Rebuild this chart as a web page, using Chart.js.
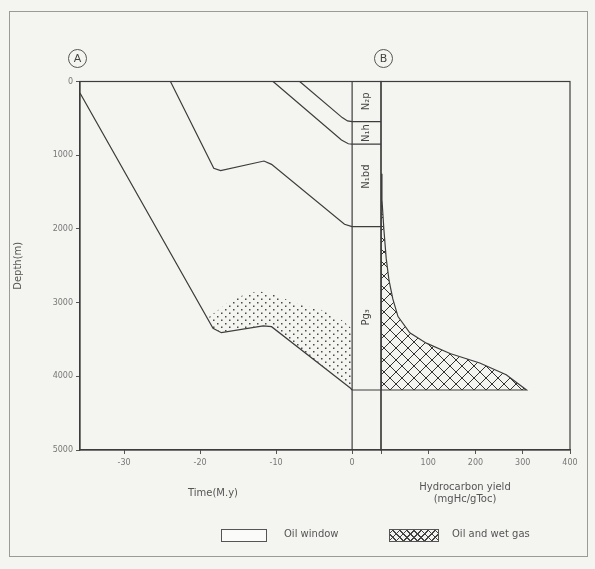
<!DOCTYPE html>
<html>
<head>
<meta charset="utf-8">
<script src="https://cdn.jsdelivr.net/npm/chart.js@4.4.0/dist/chart.umd.min.js"></script>
<style>
  body { margin:0; background:#f4f4f1; font-family:"DejaVu Sans", sans-serif; color:#555; }
  #wrap { position:relative; width:595px; height:569px; overflow:hidden; }
  #wrap canvas { position:absolute; left:0; top:0; }
  #frame { position:absolute; left:9px; top:11px; width:579px; height:546px; border:1px solid #9a9a9a; box-sizing:border-box; }
  .circ { position:absolute; width:17px; height:17px; border:1px solid #555; border-radius:50%;
          font-size:11px; line-height:17px; text-align:center; color:#444; }
  .lbl { position:absolute; font-size:10px; white-space:nowrap; color:#555; }
  .box { position:absolute; height:11px; border:1px solid #555; }
</style>
</head>
<body>
<div id="wrap">
  <div id="frame"></div>
  <canvas id="chartA" width="595" height="569"></canvas>
  <canvas id="chartB" width="595" height="569"></canvas>
  <div class="circ" style="left:68px;top:49px">A</div>
  <div class="circ" style="left:374px;top:49px">B</div>
  <div class="lbl" style="left:188px;top:487px">Time(M.y)</div>
  <div class="lbl" style="left:410px;top:481px;text-align:center;width:110px;line-height:12px">Hydrocarbon yield<br>(mgHc/gToc)</div>
  <div class="box" style="left:221px;top:529px;width:44px;background:#fbfbf9"></div>
  <div class="lbl" style="left:284px;top:528px">Oil window</div>
  <div class="box" style="left:389px;top:529px;width:48px;
       background:repeating-linear-gradient(45deg,transparent 0 4px,#444 4px 5px),repeating-linear-gradient(-45deg,transparent 0 4px,#444 4px 5px)"></div>
  <div class="lbl" style="left:452px;top:528px">Oil and wet gas</div>
</div>
<script>
'use strict';

// axes
const timeTicks   = [-30, -20, -10, 0];
const yieldTicks  = [0, 100, 200, 300, 400];
const depthTicks  = [0, 1000, 2000, 3000, 4000, 5000];
const timeMin = -35.8, timeMax = 3.8;   // timeMax = right edge of the strata column

// strata column
const formations        = ['N\u2082p', 'N\u2081h', 'N\u2081bd', 'Pg\u2083'];
const formationBase     = [545, 850, 1970, 4186];
const formationLabelAt  = [270, 700, 1290, 3200];

// burial paths  [time (Ma), depth (m)]
const burialNp  = [[-6.9,0],[-1.3,490],[-0.6,535],[0,545]];
const burialNh  = [[-10.4,0],[-1.4,794],[-0.5,845],[0,850]];
const burialNbd = [[-23.9,0],[-18.2,1178],[-17.3,1210],[-11.6,1079],[-10.6,1124],[-1.0,1938],[0,1970]];
const burialPg  = [[-35.8,156],[-18.3,3349],[-17.2,3408],[-11.7,3317],[-10.6,3327],[-0.2,4163],[0,4186]];

// oil window upper edge (lower edge is the Pg base path)
const oilWindowTop = [[-19.0,3210],[-15.9,2965],[-13.7,2874],[-12.2,2850],[-10.6,2874],[-7.5,3010],
                      [-4.0,3100],[-1.4,3236],[-0.3,3327],[0,3370]];

// hydrocarbon yield  [mgHc/gToc, depth (m)]
const yieldCurve = [[0,1250],[2,1600],[6,2000],[11,2400],[17,2700],[25,2950],[36,3190],[61,3410],
                    [96,3550],[146,3690],[209,3820],[265,3980],[308,4186]];

const pt = a => a.map(p => ({ x:p[0], y:p[1] }));
const INK = '#3d3d3d';

function dotPattern() {
  const c = document.createElement('canvas'); c.width = 8; c.height = 7;
  const g = c.getContext('2d');
  g.fillStyle = '#4a4a4a';
  g.fillRect(1, 1, 1.5, 1.5); g.fillRect(5, 4.5, 1.5, 1.5);
  return g.createPattern(c, 'repeat');
}
function hatchPattern() {
  const s = 12, c = document.createElement('canvas'); c.width = s; c.height = s;
  const g = c.getContext('2d');
  g.strokeStyle = '#333'; g.lineWidth = 1;
  g.beginPath(); g.moveTo(0,0); g.lineTo(s,s); g.moveTo(s,0); g.lineTo(0,s); g.stroke();
  return g.createPattern(c, 'repeat');
}

const framePlugin = {
  id: 'frame',
  beforeDatasetsDraw(chart) {
    const a = chart.chartArea, ctx = chart.ctx;
    ctx.save(); ctx.strokeStyle = INK; ctx.lineWidth = 1.2;
    ctx.strokeRect(a.left, a.top, a.right - a.left, a.bottom - a.top);
    ctx.restore();
  }
};

const columnLabels = {
  id: 'columnLabels',
  afterDatasetsDraw(chart) {
    const { x, y } = chart.scales, ctx = chart.ctx;
    ctx.save();
    ctx.fillStyle = '#444'; ctx.font = '10px "DejaVu Sans"';
    ctx.textAlign = 'center'; ctx.textBaseline = 'middle';
    formations.forEach((f, i) => {
      ctx.save();
      ctx.translate(x.getPixelForValue(timeMax / 2), y.getPixelForValue(formationLabelAt[i]));
      ctx.rotate(-Math.PI / 2);
      ctx.fillText(f, 0, 0);
      ctx.restore();
    });
    ctx.restore();
  }
};

const line = (data, extra) => Object.assign({
  data: pt(data), showLine: true, borderColor: INK, borderWidth: 1.2,
  pointRadius: 0, fill: false, tension: 0
}, extra || {});

const tickFont = { family: '"DejaVu Sans"', size: 8 };
const xScale = (min, max, ticks) => ({
  type: 'linear', min, max,
  afterBuildTicks: s => { s.ticks = ticks.map(v => ({ value: v })); },
  afterFit: s => { s.height = 30; },
  ticks: { color: '#777', font: tickFont, maxRotation: 0, padding: 4,
           callback: v => (v === 0 && ticks === yieldTicks) ? '' : String(v) },
  grid: { drawOnChartArea: false, drawTicks: true, tickLength: 4, color: '#555' },
  border: { color: INK, width: 1.2 }
});

Chart.defaults.animation = false;
Chart.defaults.plugins.legend.display = false;
Chart.defaults.plugins.tooltip.enabled = false;

const dots = dotPattern(), hatch = hatchPattern();
const oilWindow = oilWindowTop.concat([[0, 4186]], burialPg.slice().reverse().filter(p => p[0] > -19.0));

new Chart(document.getElementById('chartA'), {
  type: 'scatter',
  data: { datasets: [
    line(oilWindow, { borderWidth: 0, fill: 'shape', backgroundColor: dots }),
    line(burialNp), line(burialNh), line(burialNbd), line(burialPg),
    ...formationBase.map(d => line([[0, d], [timeMax, d]])),
    line([[0, 0], [0, 5000]])
  ]},
  options: {
    responsive: false, devicePixelRatio: 1,
    layout: { padding: { left: 0, top: 81.5, right: 595 - 381, bottom: 569 - 450 - 30 } },
    scales: {
      x: xScale(timeMin, timeMax, timeTicks),
      y: {
        type: 'linear', reverse: true, min: 0, max: 5000,
        afterBuildTicks: s => { s.ticks = depthTicks.map(v => ({ value: v })); },
        afterFit: s => { s.width = 80; },
        ticks: { color: '#777', font: tickFont, padding: 3, callback: v => String(v) },
        grid: { drawOnChartArea: false, drawTicks: true, tickLength: 4, color: '#555' },
        border: { color: INK, width: 1.2 },
        title: { display: true, text: 'Depth(m)', color: '#555',
                 font: { family: '"DejaVu Sans"', size: 10 }, padding: { top: 12, bottom: 0 } }
      }
    }
  },
  plugins: [framePlugin, columnLabels]
});

new Chart(document.getElementById('chartB'), {
  type: 'scatter',
  data: { datasets: [
    line(yieldCurve.concat([[0, 4186], [0, 1250]]), { fill: 'shape', backgroundColor: hatch })
  ]},
  options: {
    responsive: false, devicePixelRatio: 1,
    layout: { padding: { left: 381, top: 81.5, right: 595 - 570, bottom: 569 - 450 - 30 } },
    scales: {
      x: xScale(0, 400, yieldTicks),
      y: { type: 'linear', reverse: true, min: 0, max: 5000, display: false }
    }
  },
  plugins: [framePlugin]
});
</script>
</body>
</html>
